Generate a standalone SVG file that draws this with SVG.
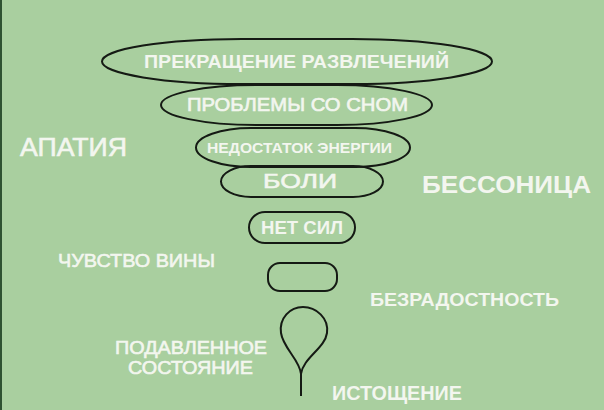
<svg xmlns="http://www.w3.org/2000/svg" width="604" height="410" viewBox="0 0 604 410">
  <style>
    .shape { fill: none; stroke: #151a14; stroke-width: 2; }
    .t { fill: #f3f6ef; font-family: "Liberation Sans", Arial, sans-serif; }
    .b { font-weight: bold; }
    .m { stroke: #f3f6ef; stroke-width: 0.6; }
  </style>
  <rect x="0" y="0" width="604" height="410" fill="#a9cf9f"/>
  <rect x="0" y="0" width="2" height="410" fill="#2f5232"/>

  <g id="node-prekrashchenie">
    <rect class="shape" x="102" y="39" width="390" height="45" rx="140" ry="22.5"/>
    <text class="t b" x="144" y="68" font-size="18" textLength="305" lengthAdjust="spacingAndGlyphs">ПРЕКРАЩЕНИЕ РАЗВЛЕЧЕНИЙ</text>
  </g>
  <g id="node-problemy">
    <rect class="shape" x="161" y="85" width="271" height="40" rx="95" ry="20"/>
    <text class="t m" x="187" y="111" font-size="18" textLength="221" lengthAdjust="spacingAndGlyphs">ПРОБЛЕМЫ СО СНОМ</text>
  </g>
  <g id="node-nedostatok">
    <rect class="shape" x="196" y="128" width="214" height="39" rx="55" ry="19.5"/>
    <text class="t b" x="207" y="153" font-size="15" textLength="185" lengthAdjust="spacingAndGlyphs">НЕДОСТАТОК ЭНЕРГИИ</text>
  </g>
  <g id="node-boli">
    <rect class="shape" x="221" y="166" width="162" height="31" rx="30" ry="15.5"/>
    <text class="t m" x="263" y="188" font-size="21" textLength="74" lengthAdjust="spacingAndGlyphs">БОЛИ</text>
  </g>
  <g id="node-net-sil">
    <rect class="shape" x="249" y="212" width="106" height="31" rx="16" ry="15.5"/>
    <text class="t b" x="261" y="234" font-size="19" textLength="82" lengthAdjust="spacingAndGlyphs">НЕТ СИЛ</text>
  </g>
  <g id="node-empty">
    <rect class="shape" x="268" y="263" width="69" height="28" rx="12" ry="12"/>
  </g>
  <g id="node-drop">
    <path class="shape" d="M 301 396 L 301 374 C 300 360, 283 348, 281 333 C 279 318, 290 307, 303 307 C 316 307, 329 318, 327 333 C 325 348, 303 358, 301 374"/>
  </g>

  <g id="connectors"></g>

  <g id="labels">
    <text class="t m" x="20" y="156" font-size="25" textLength="107" lengthAdjust="spacingAndGlyphs">АПАТИЯ</text>
    <text class="t b" x="422" y="193" font-size="23" textLength="169" lengthAdjust="spacingAndGlyphs">БЕССОНИЦА</text>
    <text class="t m" x="58" y="267" font-size="19" textLength="157" lengthAdjust="spacingAndGlyphs">ЧУВСТВО ВИНЫ</text>
    <text class="t b" x="370" y="306" font-size="19" textLength="189" lengthAdjust="spacingAndGlyphs">БЕЗРАДОСТНОСТЬ</text>
    <text class="t m" x="115" y="354" font-size="18" textLength="152" lengthAdjust="spacingAndGlyphs">ПОДАВЛЕННОЕ</text>
    <text class="t m" x="128" y="374" font-size="18" textLength="125" lengthAdjust="spacingAndGlyphs">СОСТОЯНИЕ</text>
    <text class="t b" x="332" y="400" font-size="20" textLength="130" lengthAdjust="spacingAndGlyphs">ИСТОЩЕНИЕ</text>
  </g>
</svg>
